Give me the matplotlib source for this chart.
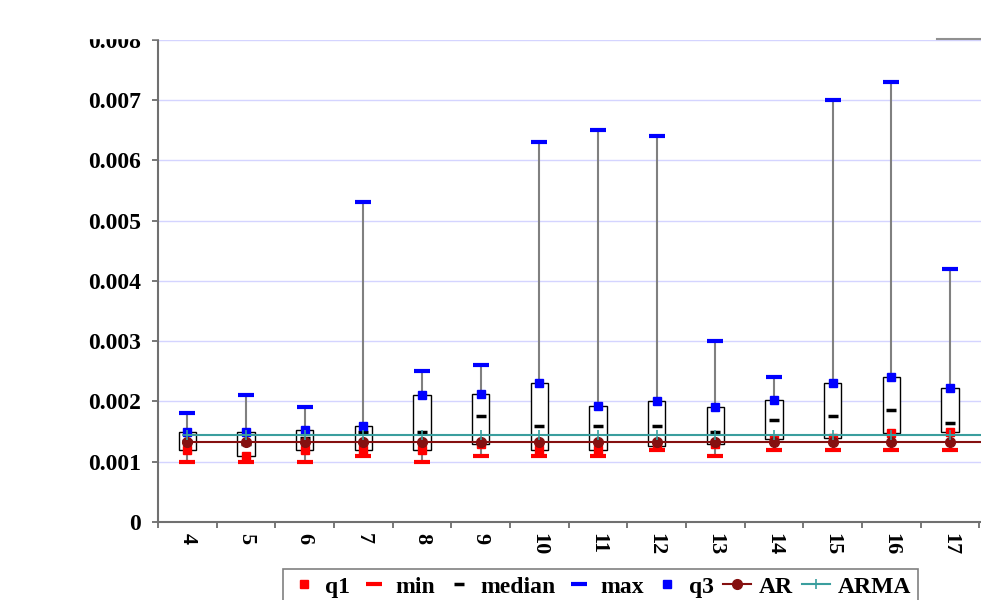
import matplotlib
matplotlib.use('Agg')
import matplotlib.pyplot as plt
from matplotlib.lines import Line2D
from matplotlib.patches import Rectangle

# error statistics per lag order
orders = [4, 5, 6, 7, 8, 9, 10, 11, 12, 13, 14, 15, 16, 17]
mins = [0.0010, 0.0010, 0.0010, 0.0011, 0.0010, 0.0011, 0.0011,
        0.0011, 0.0012, 0.0011, 0.0012, 0.0012, 0.0012, 0.0012]
q1 = [0.0012, 0.0011, 0.0012, 0.0012, 0.0012, 0.0013, 0.0012,
      0.0012, 0.00126, 0.0013, 0.00137, 0.0014, 0.00148, 0.0015]
medians = [0.00135, 0.0013, 0.0014, 0.0015, 0.0015, 0.00175, 0.0016,
           0.0016, 0.0016, 0.0015, 0.0017, 0.00175, 0.00185, 0.00165]
q3 = [0.0015, 0.0015, 0.00152, 0.0016, 0.0021, 0.00213, 0.0023,
      0.00192, 0.0020, 0.0019, 0.00203, 0.0023, 0.0024, 0.00222]
maxs = [0.0018, 0.0021, 0.0019, 0.0053, 0.0025, 0.0026, 0.0063,
        0.0065, 0.0064, 0.0030, 0.0024, 0.0070, 0.0073, 0.0042]

# benchmark models (same error for every order)
ar_level = 0.00132
arma_level = 0.00145
bench_x = orders + [18]

plt.rcParams['font.family'] = ['Liberation Serif', 'DejaVu Serif']
plt.rcParams['font.weight'] = 'bold'

fig = plt.figure(figsize=(9.81, 6.0), dpi=100)
ax = fig.add_axes([158 / 981, 78 / 600, 880 / 981, 482.3 / 600])

# high-low lines and boxes
ax.vlines(orders, mins, maxs, color='#808080', lw=1.5, zorder=1)
ax.bar(orders, [b - a for a, b in zip(q1, q3)], bottom=q1, width=0.3,
       color='white', edgecolor='black', lw=1, zorder=2)

ax.plot(orders, q1, ls='none', marker='s', ms=6, color='#ff0000', zorder=3, label='q1')
ax.plot(orders, mins, ls='none', marker='_', ms=11, mew=3, color='#ff0000', zorder=3, label='min')
ax.plot(orders, medians, ls='none', marker='_', ms=7, mew=2.5, color='black', zorder=3, label='median')
ax.plot(orders, maxs, ls='none', marker='_', ms=11, mew=3, color='#0000ff', zorder=3, label='max')
ax.plot(orders, q3, ls='none', marker='s', ms=6, color='#0000ff', zorder=3, label='q3')

ax.plot(bench_x, [ar_level] * len(bench_x), color='#851010', lw=1.5,
        marker='o', ms=7, zorder=4, label='AR')
ax.plot(bench_x, [arma_level] * len(bench_x), color='#3a9e9e', lw=1.5,
        marker='+', ms=7, mew=1.2, zorder=4, label='ARMA')

ax.set_ylim(0, 0.008)
ax.set_xlim(3.5, 18.5)
ax.set_yticks([i / 1000 for i in range(9)])
ax.set_yticklabels(['0'] + ['%.3f' % (i / 1000) for i in range(1, 9)])
ax.yaxis.grid(True, color='#d4d4ff', lw=1)
ax.set_axisbelow(True)

ax.set_xticks([x + 0.5 for x in range(3, 19)])
ax.set_xticklabels([])
ax.set_xticks(orders, minor=True)
ax.set_xticklabels([str(o) for o in orders], minor=True, rotation=-90)
ax.tick_params(axis='x', which='minor', length=0, pad=8, labelsize=16)
ax.tick_params(axis='x', which='major', length=4.3, width=1.2, color='#606060', direction='out')
ax.tick_params(axis='y', length=4.3, width=1.2, color='#606060', labelsize=17, pad=8)

for s in ['top', 'right']:
    ax.spines[s].set_visible(False)
for s in ['left', 'bottom']:
    ax.spines[s].set_color('#707070')
    ax.spines[s].set_linewidth(1.5)

leg = fig.legend(loc='upper left', bbox_to_anchor=(283 / 981, 1 - 569 / 600),
                 ncol=7, fontsize=17, handlelength=1.2, handletextpad=0.3,
                 columnspacing=0.4, frameon=True, fancybox=False,
                 borderaxespad=0, borderpad=0.3)
leg.get_frame().set_edgecolor('#606060')
leg.get_frame().set_linewidth(1.2)

# white band over the top edge, with a short grey rule at the right
fig.add_artist(Rectangle((0, 1 - 38 / 600), 1, 38 / 600, transform=fig.transFigure,
                         color='white', zorder=10))
fig.add_artist(Line2D([937 / 981, 1], [1 - 39 / 600, 1 - 39 / 600],
                      transform=fig.transFigure, color='#909090', lw=1.5, zorder=11))

fig.savefig('out.png', dpi=100)
